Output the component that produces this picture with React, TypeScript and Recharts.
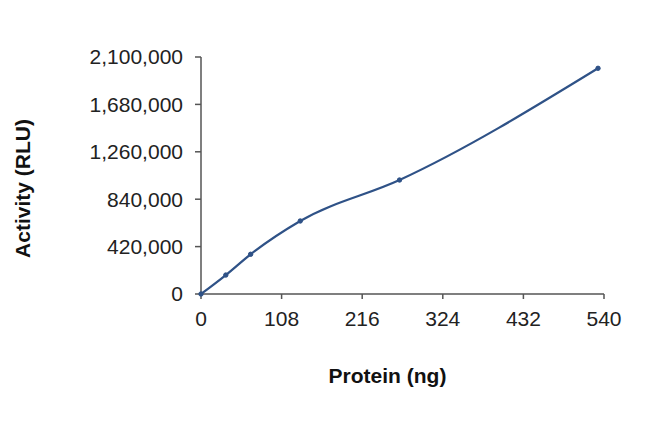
import { LineChart, Line, XAxis, YAxis, Label } from "recharts";

const protein = [0, 33.25, 66.5, 133, 266, 532];
const activity = [0, 168000, 352000, 647000, 1010000, 2000000];
const xTicks = [0, 108, 216, 324, 432, 540];
const yTicks = [0, 420000, 840000, 1260000, 1680000, 2100000];

const data = protein.map((p, i) => ({ protein: p, activity: activity[i] }));

const FONT = "'Liberation Sans', Arial, sans-serif";
const LINE = "#2f5287";
const AXIS = "#555555";

export default function App() {
  return (
    <div style={{ position: "absolute", left: 0, top: 0, background: "#fff" }}>
      <LineChart
        width={650}
        height={435}
        data={data}
        margin={{ top: 57, right: 46, bottom: 41, left: 0 }}
      >
        <XAxis
          dataKey="protein"
          type="number"
          domain={[0, 540]}
          ticks={xTicks}
          height={100}
          stroke={AXIS}
          strokeWidth={1.5}
          tickSize={5}
          tickMargin={12}
          tick={{ fontSize: 21, fill: "#222", fontFamily: FONT }}
        >
          <Label
            content={({ viewBox }: any) => {
              const cx = viewBox.x + viewBox.width / 2 - 15;
              const cy = viewBox.y + 81;
              return (
                <text
                  x={cx}
                  y={cy}
                  textAnchor="middle"
                  dominantBaseline="central"
                  fontFamily={FONT}
                  fontSize={21}
                  fontWeight="bold"
                  fill="#111"
                >
                  Protein (ng)
                </text>
              );
            }}
          />
        </XAxis>
        <YAxis
          type="number"
          domain={[0, 2100000]}
          ticks={yTicks}
          width={201}
          stroke={AXIS}
          strokeWidth={1.5}
          tickSize={6}
          tickMargin={12}
          tickFormatter={(v) => v.toLocaleString("en-US")}
          tick={{ fontSize: 21, fill: "#222", fontFamily: FONT }}
        >
          <Label
            content={({ viewBox }: any) => {
              const cx = viewBox.x + 22;
              const cy = viewBox.y + viewBox.height / 2 + 13;
              return (
                <text
                  x={cx}
                  y={cy}
                  transform={`rotate(-90 ${cx} ${cy})`}
                  textAnchor="middle"
                  dominantBaseline="central"
                  fontFamily={FONT}
                  fontSize={21}
                  fontWeight="bold"
                  fill="#111"
                >
                  Activity (RLU)
                </text>
              );
            }}
          />
        </YAxis>
        <Line
          type="monotone"
          dataKey="activity"
          stroke={LINE}
          strokeWidth={2.2}
          dot={{ r: 2.2, fill: LINE, stroke: LINE, strokeWidth: 1 }}
          isAnimationActive={false}
        />
      </LineChart>
    </div>
  );
}
